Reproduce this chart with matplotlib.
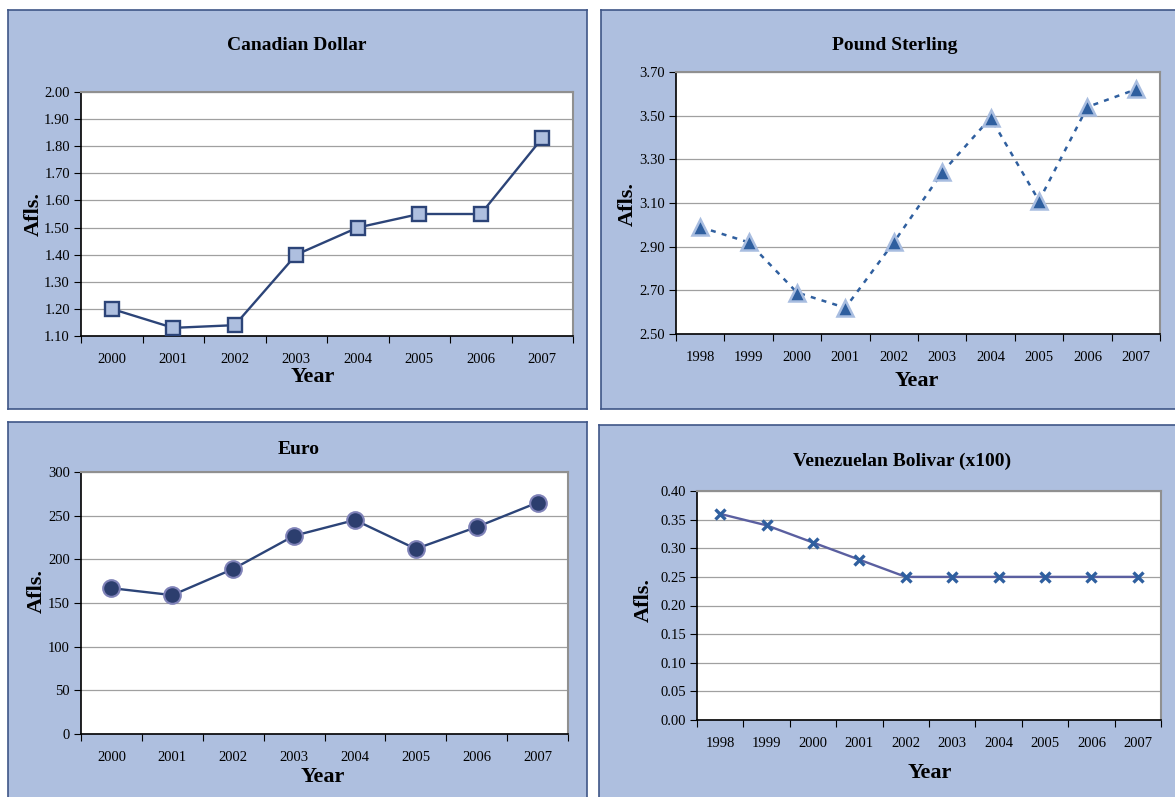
import matplotlib
matplotlib.use("Agg")
import matplotlib.pyplot as plt
from matplotlib.ticker import FormatStrFormatter
import numpy as np

W, H = 1175, 797

years_a = ["2000", "2001", "2002", "2003", "2004", "2005", "2006", "2007"]
years_b = ["1998", "1999", "2000", "2001", "2002", "2003", "2004", "2005", "2006", "2007"]

cad = [1.20, 1.13, 1.14, 1.40, 1.50, 1.55, 1.55, 1.83]
gbp = [2.99, 2.92, 2.69, 2.62, 2.92, 3.24, 3.49, 3.11, 3.54, 3.62]
eur = [167, 159, 189, 227, 245, 212, 237, 265]
veb = [0.36, 0.34, 0.31, 0.28, 0.25, 0.25, 0.25, 0.25, 0.25, 0.25]

plt.rcParams['font.family'] = ['Liberation Serif', 'DejaVu Serif']

BG = "#aebfdf"
EDGE = "#3f5687"

fig = plt.figure(figsize=(W / 100, H / 100), dpi=100)
fig.patch.set_facecolor("white")


def frac(x0, y0, x1, y1):
    return [x0 / W, 1 - y1 / H, (x1 - x0) / W, (y1 - y0) / H]


def frame(x0, y0, x1, y1):
    fa = fig.add_axes(frac(x0, y0, x1, y1), zorder=-5)
    fa.set_facecolor(BG)
    fa.set_xticks([])
    fa.set_yticks([])
    for s in fa.spines.values():
        s.set_color(EDGE)
        s.set_linewidth(1.2)


def panel(box, labels, values, ylim, step, fmt, title, tpos, ypos, xpos, style):
    ax = fig.add_axes(frac(*box), zorder=1)
    n = len(labels)
    x = np.arange(n)
    ax.plot(x, values, **style, zorder=3, clip_on=False)
    ax.set_xlim(-0.5, n - 0.5)
    ax.set_ylim(*ylim)
    ax.set_yticks(np.arange(ylim[0], ylim[1] + step / 2, step))
    ax.yaxis.set_major_formatter(FormatStrFormatter(fmt))
    ax.set_xticks(np.arange(-0.5, n, 1.0))
    ax.set_xticklabels([])
    ax.set_xticks(x, minor=True)
    ax.set_xticklabels(labels, minor=True)
    ax.tick_params(axis='x', which='minor', length=0, pad=12, labelsize=10.5)
    ax.tick_params(axis='x', which='major', length=5, direction='out')
    ax.tick_params(axis='y', length=5, direction='out', labelsize=10.5, pad=3)
    ax.grid(axis='y', color="#a0a0a0", linewidth=0.9)
    ax.set_axisbelow(True)
    for s in ['top', 'right']:
        ax.spines[s].set_color("#909090")
        ax.spines[s].set_linewidth(1.5)
    for s in ['left', 'bottom']:
        ax.spines[s].set_linewidth(1.2)
    fig.text(tpos[0] / W, 1 - tpos[1] / H, title, ha='center', va='center',
             fontsize=14, fontweight='bold', zorder=2)
    fig.text(ypos[0] / W, 1 - ypos[1] / H, "Afls.", ha='center', va='center',
             rotation=90, fontsize=16, fontweight='bold', zorder=2)
    fig.text(xpos[0] / W, 1 - xpos[1] / H, "Year", ha='center', va='center',
             fontsize=16, fontweight='bold', zorder=2)
    return ax


frame(8, 10, 587, 409)
frame(601, 10, 1180, 409)
frame(8, 422, 587, 802)
frame(599, 425, 1180, 802)

panel((81, 92, 573, 336), years_a, cad, (1.10, 2.00), 0.10, "%.2f",
      "Canadian Dollar", (297, 45), (34, 214), (313, 377),
      dict(color="#2c4478", linewidth=1.7, marker='s', markersize=10.5,
           markerfacecolor="#aebfdf", markeredgecolor="#2c4478", markeredgewidth=1.7))

panel((676, 72, 1160, 334), years_b, gbp, (2.50, 3.70), 0.20, "%.2f",
      "Pound Sterling", (895, 45), (628, 204), (917, 381),
      dict(color="#2f5f9f", linewidth=1.8, linestyle=(0, (2, 2.5)), marker='^', markersize=11,
           markerfacecolor="#2f5f9f", markeredgecolor="#a8bde0", markeredgewidth=1.8))

panel((81, 472, 568, 734), years_a, eur, (0, 300), 50, "%d",
      "Euro", (299, 450), (37, 591), (323, 777),
      dict(color="#2c4478", linewidth=1.7, marker='o', markersize=12,
           markerfacecolor="#2c3e6e", markeredgecolor="#7f82b8", markeredgewidth=1.5))

panel((697, 491, 1161, 720), years_b, veb, (0.0, 0.40), 0.05, "%.2f",
      "Venezuelan Bolivar (x100)", (902, 461), (644, 600), (930, 773),
      dict(color="#5a5fa0", linewidth=1.7, marker='x', markersize=7.5,
           markeredgecolor="#2f5f9f", markeredgewidth=2.4))

fig.savefig("out.png", dpi=100, facecolor=fig.get_facecolor())
